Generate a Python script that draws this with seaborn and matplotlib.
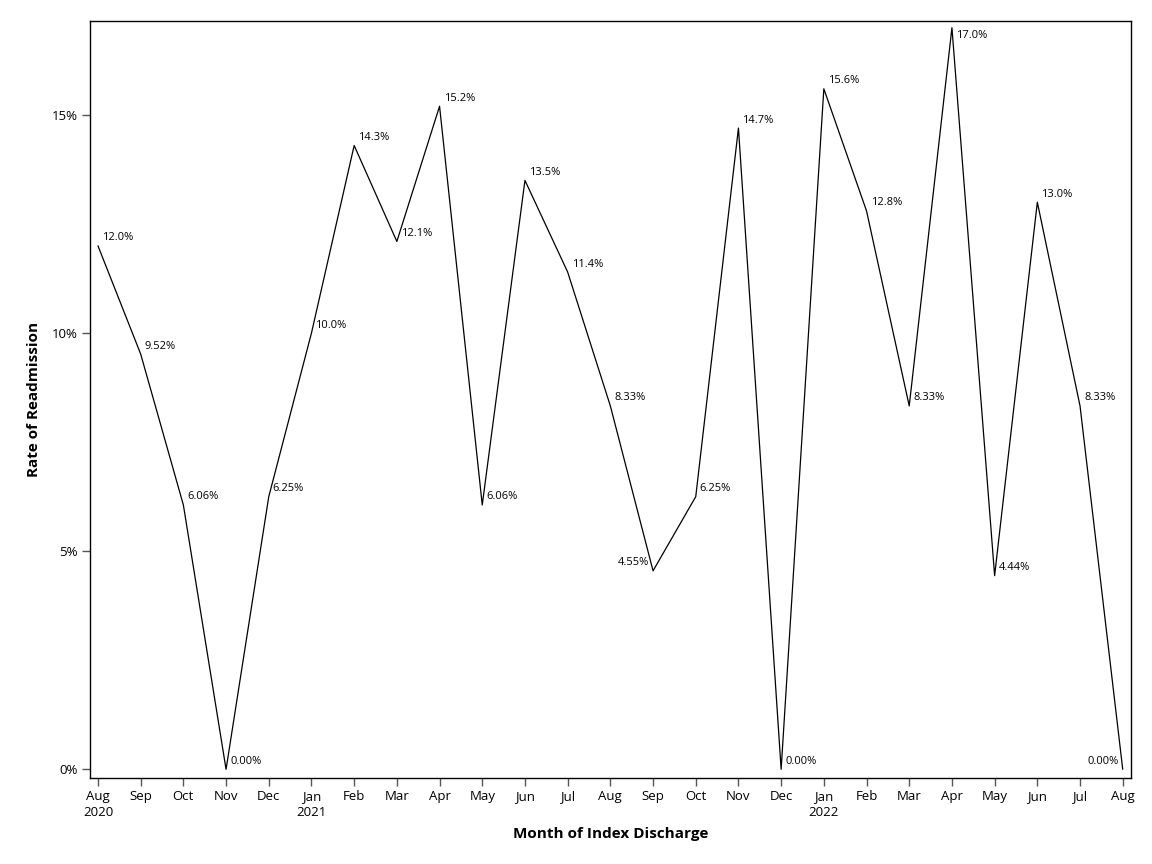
import pandas as pd
import numpy as np
import matplotlib.pyplot as plt
import seaborn as sns

months = ["Aug\n2020", "Sep", "Oct", "Nov", "Dec", "Jan\n2021", "Feb", "Mar", "Apr",
          "May", "Jun", "Jul", "Aug", "Sep", "Oct", "Nov", "Dec", "Jan\n2022", "Feb",
          "Mar", "Apr", "May", "Jun", "Jul", "Aug"]
rates = [12.0, 9.52, 6.06, 0.00, 6.25, 10.0, 14.3, 12.1, 15.2, 6.06, 13.5, 11.4, 8.33,
         4.55, 6.25, 14.7, 0.00, 15.6, 12.8, 8.33, 17.0, 4.44, 13.0, 8.33, 0.00]
labels = ["12.0%", "9.52%", "6.06%", "0.00%", "6.25%", "10.0%", "14.3%", "12.1%", "15.2%",
          "6.06%", "13.5%", "11.4%", "8.33%", "4.55%", "6.25%", "14.7%", "0.00%", "15.6%",
          "12.8%", "8.33%", "17.0%", "4.44%", "13.0%", "8.33%", "0.00%"]
left_side = [13, 24]
below = [20]

df = pd.DataFrame({"idx": range(len(rates)), "rate": rates})

sns.set_style("white", {"text.color": "black", "axes.labelcolor": "black",
                        "xtick.color": "black", "ytick.color": "black"})
plt.rcParams['font.family'] = ['Open Sans', 'DejaVu Sans']

fig, ax = plt.subplots(figsize=(11.52, 8.64), dpi=100)
fig.subplots_adjust(left=0.078, right=0.982, top=0.976, bottom=0.0995)

sns.lineplot(data=df, x="idx", y="rate", color="black", lw=0.9, ax=ax)

for i, (r, lab) in enumerate(zip(rates, labels)):
    dx = -4 if i in left_side else 4
    dy = -8 if i in below else 8
    ax.annotate(lab, (i, r), xytext=(dx, dy), textcoords="offset pixels",
                ha="right" if i in left_side else "left", va="center",
                fontsize=8, color="black")

ax.set_xlim(-0.19, 24.2)
ax.set_ylim(-0.2, 17.16)
ax.set_xticks(range(len(months)))
ax.set_xticklabels(months, fontsize=9.5, linespacing=1.3)
ax.set_yticks([0, 5, 10, 15])
ax.set_yticklabels(["0%", "5%", "10%", "15%"], fontsize=9.5)
ax.tick_params(axis="both", direction="out", length=5.5, width=1, color="#555555",
               labelcolor="black", bottom=True, left=True, pad=3)

for s in ax.spines.values():
    s.set_color("black")
    s.set_linewidth(1)

ax.set_xlabel("Month of Index Discharge", fontsize=11, fontweight="bold", labelpad=6)
ax.set_ylabel("Rate of Readmission", fontsize=11, fontweight="bold", labelpad=8)

plt.savefig("out.png", dpi=100)
